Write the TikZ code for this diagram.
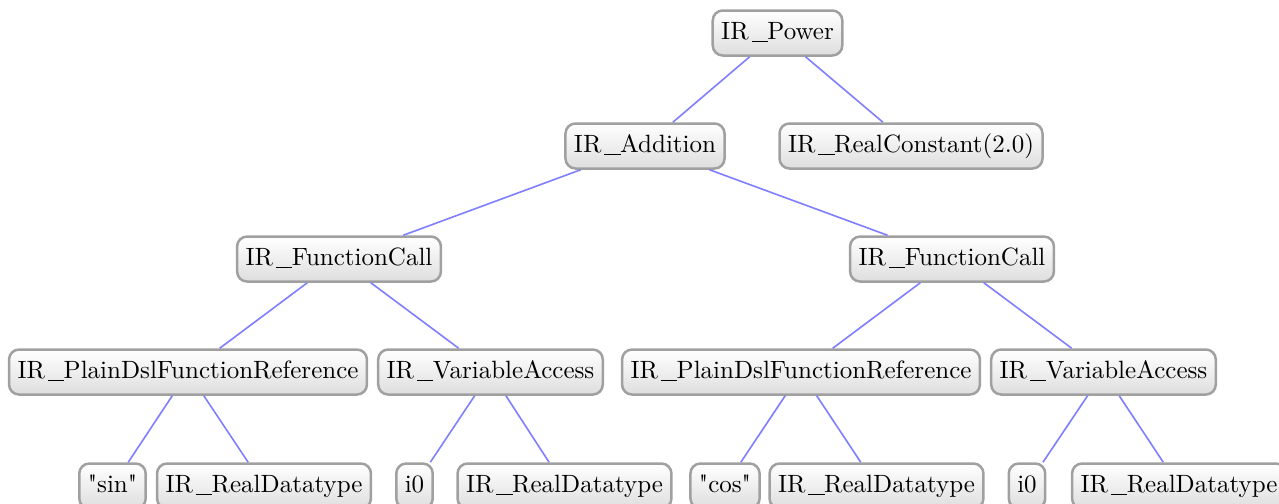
\documentclass[tikz,border=0pt]{standalone}
\usetikzlibrary{positioning}
\definecolor{boxline}{RGB}{160,160,160}
\definecolor{boxbot}{RGB}{222,222,222}
\definecolor{edgeblue}{RGB}{128,128,255}
% underscore: a short thin rule inside the advance of \_
\newcommand\irus{\leavevmode\setbox0\hbox{\_}%
  \hbox to\wd0{\hskip 1.2pt\rule[-1.3pt]{6.5pt}{0.38pt}\hss}}
\tikzset{
  irnode/.style={draw=boxline, line width=1pt, rounded corners=4pt,
    top color=white, bottom color=boxbot, minimum height=18pt,
    inner xsep=3.4pt, text height=7pt, text depth=2.2pt, font=\normalsize},
  treeedge/.style={draw=edgeblue, line width=0.65pt}
}
\begin{document}
\begin{tikzpicture}[x=0.4pt, y=-0.4pt]
  \useasboundingbox (0,0) rectangle (1279,503);
  \clip (0,0) rectangle (1279,503);
  % level 0
  \node[irnode] (pow) at (777.5,33) {IR\irus Power};
  % level 1
  \node[irnode] (add) at (645,146) {IR\irus Addition};
  \node[irnode] (rc)  at (911,146) {IR\irus RealConstant(2.0)};
  % level 2
  \node[irnode] (fcl) at (339,259) {IR\irus FunctionCall};
  \node[irnode] (fcr) at (952,259) {IR\irus FunctionCall};
  % level 3
  \node[irnode] (pdl) at (188,372) {IR\irus PlainDslFunctionReference};
  \node[irnode] (val) at (490.5,372) {IR\irus VariableAccess};
  \node[irnode] (pdr) at (801,372) {IR\irus PlainDslFunctionReference};
  \node[irnode] (var) at (1103.5,372) {IR\irus VariableAccess};
  % level 4
  \node[irnode] (sin) at (112.5,486) {\textquotedbl sin\textquotedbl};
  \node[irnode] (rd1) at (264,486) {IR\irus RealDatatype};
  \node[irnode] (i0l) at (414.5,486) {i0};
  \node[irnode] (rd2) at (564.5,486) {IR\irus RealDatatype};
  \node[irnode] (cos) at (725,486) {\textquotedbl cos\textquotedbl};
  \node[irnode] (rd3) at (876.5,486) {IR\irus RealDatatype};
  \node[irnode] (i0r) at (1027,486) {i0};
  \node[irnode] (rd4) at (1179,486) {IR\irus RealDatatype};
  % connectors
  \draw[treeedge] (pow) -- (add);
  \draw[treeedge] (pow) -- (rc);
  \draw[treeedge] (add) -- (fcl);
  \draw[treeedge] (add) -- (fcr);
  \draw[treeedge] (fcl) -- (pdl);
  \draw[treeedge] (fcl) -- (val);
  \draw[treeedge] (fcr) -- (pdr);
  \draw[treeedge] (fcr) -- (var);
  \draw[treeedge] (pdl) -- (sin);
  \draw[treeedge] (pdl) -- (rd1);
  \draw[treeedge] (val) -- (i0l);
  \draw[treeedge] (val) -- (rd2);
  \draw[treeedge] (pdr) -- (cos);
  \draw[treeedge] (pdr) -- (rd3);
  \draw[treeedge] (var) -- (i0r);
  \draw[treeedge] (var) -- (rd4);
\end{tikzpicture}
\end{document}
